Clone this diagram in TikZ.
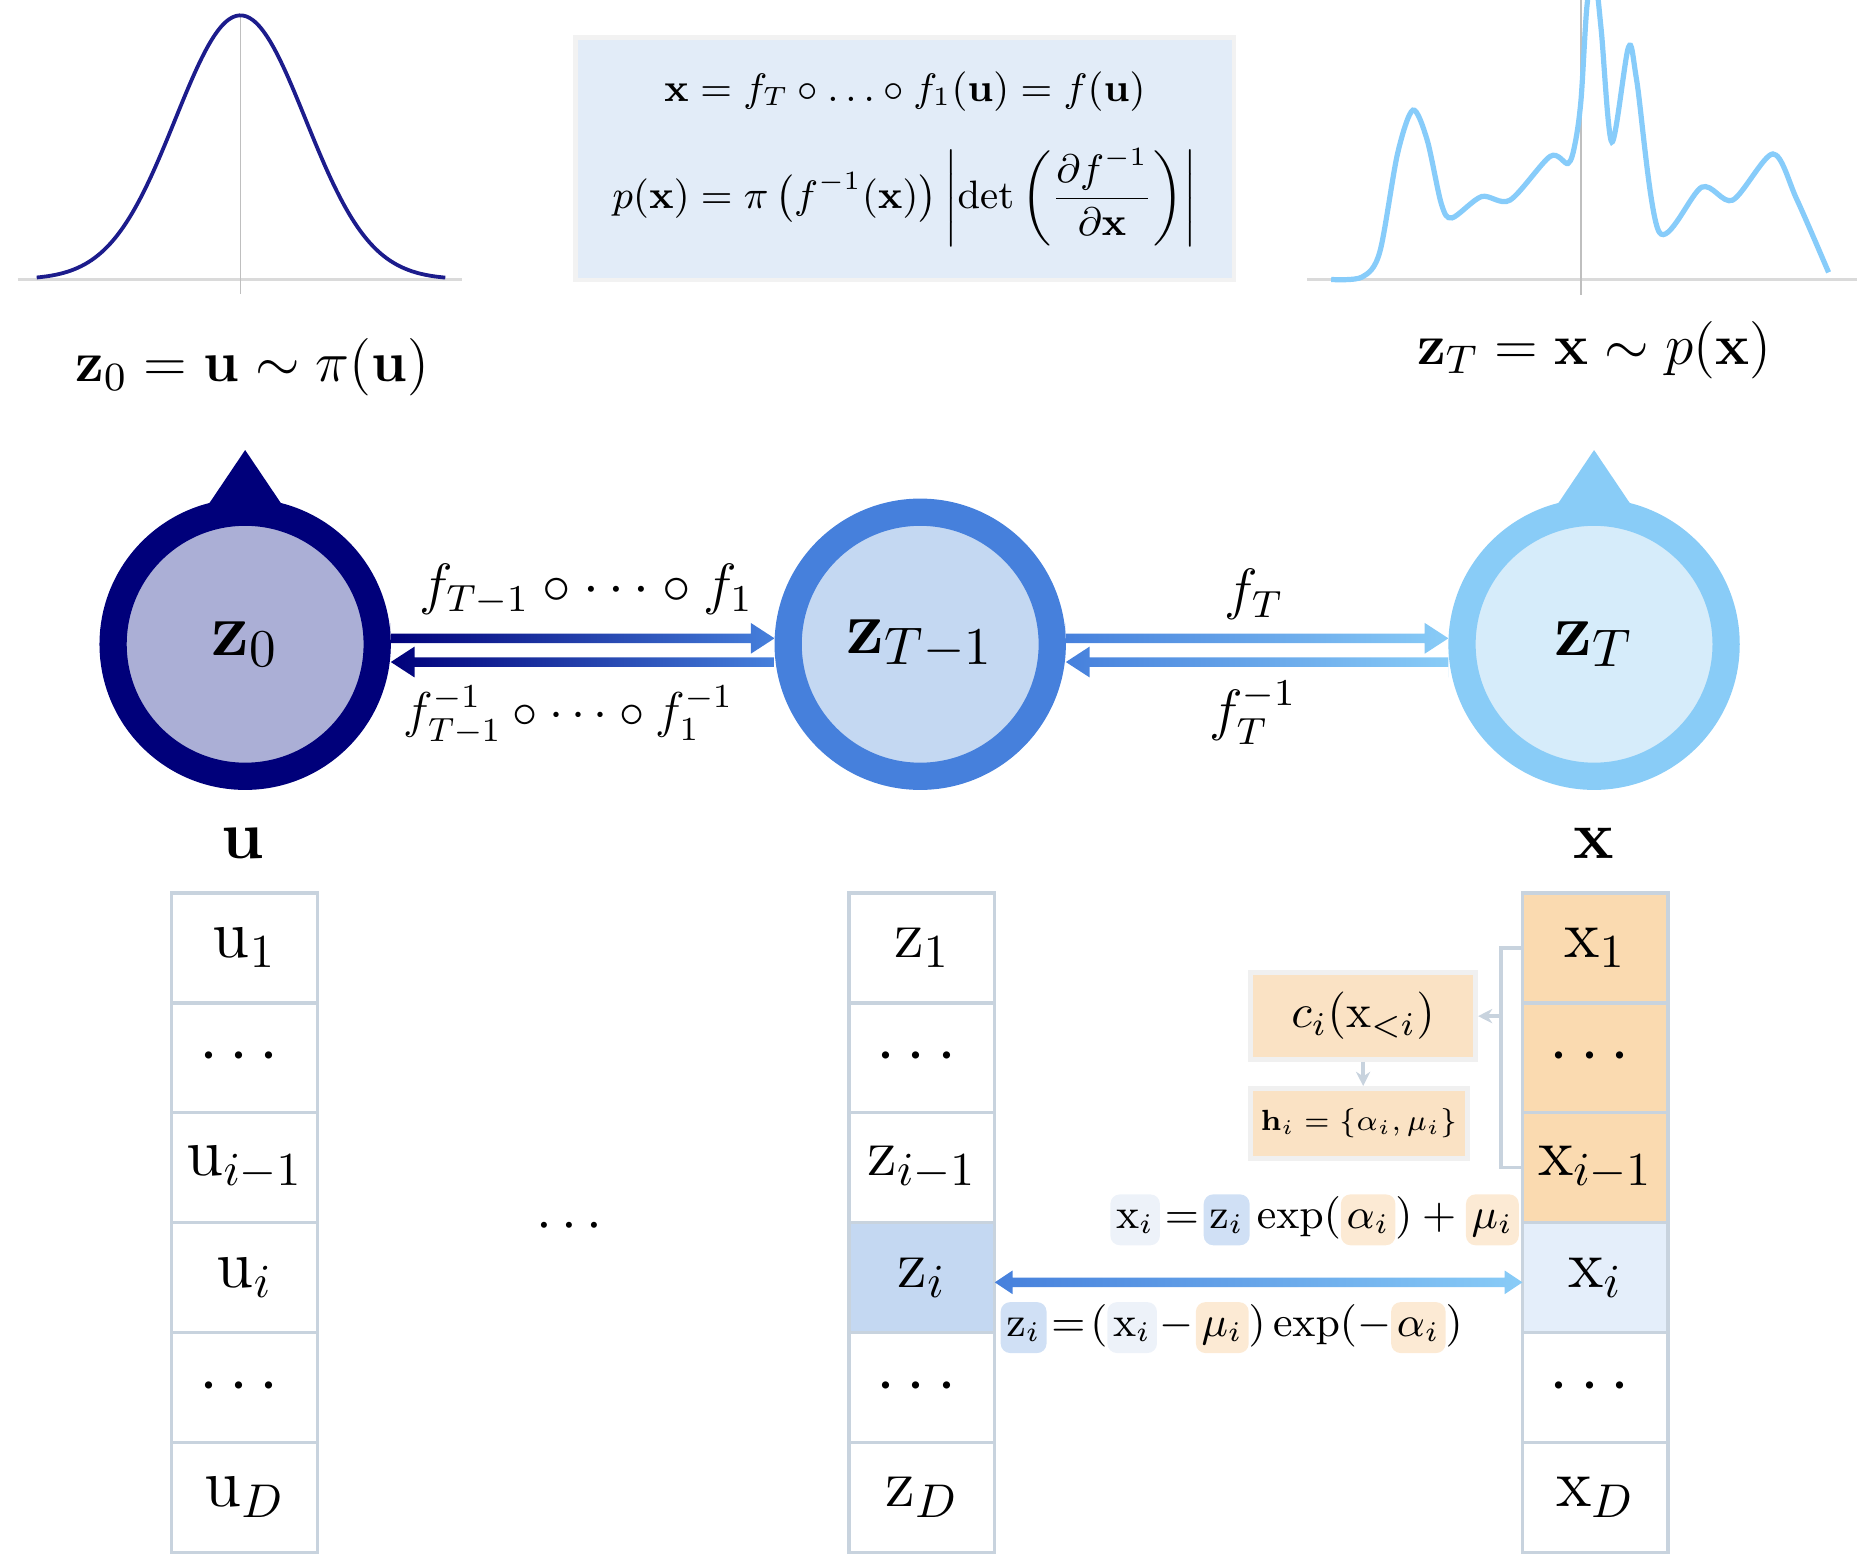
\documentclass[tikz,border=0pt]{standalone}
\usepackage{fix-cm}
\usepackage{amsmath,amssymb}
\usepackage{graphicx}
\usepackage{tikz}
\usetikzlibrary{arrows.meta,positioning,calc}
\definecolor{ringA}{RGB}{0,0,122}
\definecolor{fillA}{RGB}{171,175,214}
\definecolor{ringB}{RGB}{70,128,220}
\definecolor{fillB}{RGB}{196,216,242}
\definecolor{ringC}{RGB}{137,204,247}
\definecolor{fillC}{RGB}{214,236,250}
\definecolor{gaussline}{RGB}{28,28,140}
\definecolor{densline}{RGB}{135,204,250}
\definecolor{eqfill}{RGB}{226,236,248}
\definecolor{cellline}{RGB}{200,211,222}
\definecolor{peach}{RGB}{250,218,176}
\definecolor{peachlt}{RGB}{250,226,196}
\definecolor{cellblue}{RGB}{228,238,250}
\definecolor{hlx}{RGB}{237,242,249}
\definecolor{hlz}{RGB}{208,224,245}
\definecolor{hlp}{RGB}{252,234,212}
\definecolor{axisgray}{RGB}{218,218,218}
\newcommand{\term}[2]{\tikz[baseline=(tb.base)]\node[fill=#1, rounded corners=2pt, inner sep=1.2pt, text height=1.55ex, text depth=.6ex] (tb) {$#2$};}
\newcommand{\flow}[7]{\shade[left color=#3, right color=#4]
  (#1) -- ($(#1)+(#5,-#7)$) -- ($(#1)+(#5,-4)$) -- ($(#2)+(-#6,-4)$) -- ($(#2)+(-#6,-#7)$) -- (#2)
  -- ($(#2)+(-#6,#7)$) -- ($(#2)+(-#6,4)$) -- ($(#1)+(#5,4)$) -- ($(#1)+(#5,#7)$) -- cycle;}

\begin{document}
\begin{tikzpicture}[
  x=0.25pt, y=-0.25pt,
  ring/.style={circle, minimum size=55.75pt, line width=5.75pt, inner sep=0pt, outer sep=2.875pt, font=\fontsize{16}{19}\selectfont},
  cell/.style={draw=cellline, line width=0.7pt, minimum width=30.75pt, minimum height=23.2pt, inner sep=0pt, outer sep=0pt, font=\Large},
  toplab/.style={font=\fontsize{12.1}{15}\selectfont},
  flowlab/.style={font=\large},
  eqbox/.style={fill=eqfill, draw=black!5, line width=1pt, minimum width=139pt, minimum height=51.25pt, align=center, font=\small},
  cbox/.style={fill=peachlt, draw=black!6, line width=1pt, minimum width=47.5pt, inner sep=2pt},
  brk/.style={draw=cellline, line width=0.7pt},
  axisln/.style={draw=axisgray, line width=0.7pt},
  vline/.style={draw=black!25, line width=0.3pt}
]
  \useasboundingbox (0,0) rectangle (1568,1314);
  \clip (0,0) rectangle (1568,1314);

  \draw[axisln] (15,236) -- (390,236);
  \draw[vline] (203,12) -- (203,248);
  \draw[gaussline, line width=0.8pt, domain=31:376, samples=120, smooth] plot (\x, {236-223*exp(-0.5*((\x-203)/55)^2)});

  \draw[axisln] (1104,236) -- (1568,236);
  \draw[vline] (1335,0) -- (1335,249);
  \draw[densline, line width=1.1pt] plot[smooth] coordinates {(1124,236) (1150,234) (1165,213) (1180,130) (1193,93) (1205,118) (1217,172) (1226,184) (1251,166) (1275,169) (1309,132) (1324,138) (1330,121) (1335,84) (1340,5) (1346,-25) (1352,25) (1361,120) (1375,40) (1382,68) (1401,196) (1437,158) (1463,169) (1497,130) (1517,168) (1544,230)};

  \node[toplab] (lab0) at (213,310) {$\mathbf{z}_0 = \mathbf{u} \sim \pi(\mathbf{u})$};
  \node[toplab] (labT) at (1346,296) {$\mathbf{z}_T = \mathbf{x} \sim p(\mathbf{x})$};

  \node[eqbox] (eqn) at (764,134) {\scalebox{0.93}{$\mathbf{x} = f_T \circ \ldots \circ f_1(\mathbf{u}) = f(\mathbf{u})$}\\[7pt]
    \scalebox{0.93}{$\displaystyle p(\mathbf{x}) = \pi\left(f^{-1}(\mathbf{x})\right)\left|\det\left(\frac{\partial f^{-1}}{\partial \mathbf{x}}\right)\right|$}};

  \node[ring, draw=ringA, fill=fillA] (z0) at (207,544) {$\mathbf{z}_0$};
  \node[ring, draw=ringB, fill=fillB] (zT1) at (777,544) {$\mathbf{z}_{T-1}$};
  \node[ring, draw=ringC, fill=fillC] (zT) at (1346,544) {$\mathbf{z}_T$};
  \fill[ringA] ($(z0.center)+(0,-164)$) -- ($(z0.center)+(33,-115)$) -- ($(z0.center)+(-33,-115)$) -- cycle;
  \fill[ringC] ($(zT.center)+(0,-164)$) -- ($(zT.center)+(33,-115)$) -- ($(zT.center)+(-33,-115)$) -- cycle;

  \coordinate (a1) at ($(z0.east)+(0,-5)$);
  \coordinate (b1) at ($(zT1.west)+(0,-5)$);
  \coordinate (a2) at ($(z0.east)+(0,15)$);
  \coordinate (b2) at ($(zT1.west)+(0,15)$);
  \coordinate (c1) at ($(zT1.east)+(0,-5)$);
  \coordinate (d1) at ($(zT.west)+(0,-5)$);
  \coordinate (c2) at ($(zT1.east)+(0,15)$);
  \coordinate (d2) at ($(zT.west)+(0,15)$);
  \flow{a1}{b1}{ringA}{ringB}{0}{20}{13}
  \flow{a2}{b2}{ringA}{ringB}{20}{0}{13}
  \flow{c1}{d1}{ringB}{ringC}{0}{20}{13}
  \flow{c2}{d2}{ringB}{ringC}{20}{0}{13}

  \node[flowlab] (fwdA) at (495,498) {$f_{T-1}\circ\cdots\circ f_1$};
  \node[flowlab] (invA) at (480,604) {\scalebox{0.886}{$f^{-1}_{T-1}\circ\cdots\circ f^{-1}_1$}};
  \node[flowlab] (fwdB) at (1059,502) {$f_T$};
  \node[flowlab] (invB) at (1058,602) {$f_T^{-1}$};

  \node[font=\Large] (ulab) at (205,712) {$\mathbf{u}$};
  \node[font=\Large] (xlab) at (1346,712) {$\mathbf{x}$};

  \node[cell] (u1) at (206.5,800.4) {$\mathrm{u}_1$};
  \node[cell, below=0pt of u1] (u2) {$\cdots$};
  \node[cell, below=0pt of u2] (u3) {$\mathrm{u}_{i-1}$};
  \node[cell, below=0pt of u3] (u4) {$\mathrm{u}_i$};
  \node[cell, below=0pt of u4] (u5) {$\cdots$};
  \node[cell, below=0pt of u5] (u6) {$\mathrm{u}_D$};

  \node[font=\large] (mid) at (485,1036) {$\cdots$};

  \node[cell] (z1) at (778.5,800.4) {$\mathrm{z}_1$};
  \node[cell, below=0pt of z1] (z2) {$\cdots$};
  \node[cell, below=0pt of z2] (z3) {$\mathrm{z}_{i-1}$};
  \node[cell, below=0pt of z3, fill=fillB] (z4) {$\mathrm{z}_i$};
  \node[cell, below=0pt of z4] (z5) {$\cdots$};
  \node[cell, below=0pt of z5] (z6) {$\mathrm{z}_D$};

  \node[cell, fill=peach] (x1) at (1347,800.4) {$\mathrm{x}_1$};
  \node[cell, below=0pt of x1, fill=peach] (x2) {$\cdots$};
  \node[cell, below=0pt of x2, fill=peach] (x3) {$\mathrm{x}_{i-1}$};
  \node[cell, below=0pt of x3, fill=cellblue] (x4) {$\mathrm{x}_i$};
  \node[cell, below=0pt of x4] (x5) {$\cdots$};
  \node[cell, below=0pt of x5] (x6) {$\mathrm{x}_D$};

  \node[cbox, minimum height=18.3pt] (cfun) at (1151,858) {$c_i(\mathrm{x}_{<i})$};
  \node[cbox, minimum width=45.75pt, minimum height=14.75pt, inner sep=1pt, font=\scriptsize] (hpar) at (1147.5,948.5) {\scalebox{0.88}{$\mathbf{h}_i = \{\alpha_i, \mu_i\}$}};

  \coordinate (brk) at ($(x1.west)+(-18,0)$);
  \draw[brk] (x1.west) -- (brk) |- (x3.west);
  \draw[brk, -{Stealth[length=3pt,width=3pt]}] (brk |- cfun.east) -- (cfun.east);
  \draw[brk, -{Stealth[length=3pt,width=3pt]}] (cfun.south) -- (cfun.south |- hpar.north);

  \coordinate (zl) at ($(z4.east)+(0,4)$);
  \coordinate (xr) at ($(x4.west)+(0,4)$);
  \flow{zl}{xr}{ringB}{ringC}{15}{15}{10}

  \node[font=\small] (fwdeq) at (1110,1030) {$\term{hlx}{\mathrm{x}_i}\!=\!\term{hlz}{\mathrm{z}_i}\exp(\term{hlp}{\alpha_i}) + \term{hlp}{\mu_i}$};
  \node[font=\small] (inveq) at (1040,1121) {$\term{hlz}{\mathrm{z}_i}\!=\!(\term{hlx}{\mathrm{x}_i}\!-\!\term{hlp}{\mu_i})\exp(-\term{hlp}{\alpha_i})$};
\end{tikzpicture}
\end{document}
